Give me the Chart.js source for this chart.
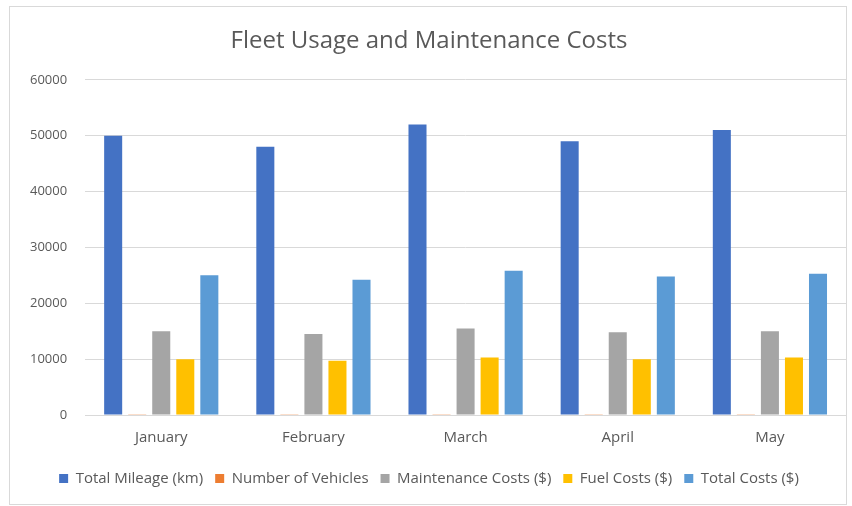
<!DOCTYPE html>
<html>
<head>
<meta charset="utf-8">
<script src="https://cdn.jsdelivr.net/npm/chart.js@4"></script>
<style>
  html, body { margin: 0; padding: 0; background: #fff; }
  #wrap {
    position: absolute; left: 9px; top: 6px;
    width: 836px; height: 497px;
    border: 1px solid #d9d9d9; background: #fff;
  }
</style>
</head>
<body>
<div id="wrap"><canvas id="myChart"></canvas></div>
<script>
const months = ['January', 'February', 'March', 'April', 'May'];
const totalMileage = [50000, 48000, 52000, 49000, 51000];
const numVehicles = [50, 48, 52, 49, 51];
const maintenanceCosts = [15000, 14500, 15500, 14800, 15000];
const fuelCosts = [10000, 9700, 10300, 10000, 10300];
const totalCosts = [25000, 24200, 25800, 24800, 25300];
const yTicks = [0, 10000, 20000, 30000, 40000, 50000, 60000];

const COLORS = {
    blue: '#4472c4',
    orange: '#ed7d31',
    gray: '#a5a5a5',
    gold: '#ffc000',
    lightBlue: '#5b9bd5',
    text: '#595959',
    grid: '#d9d9d9'
};

const FONT = "'Open Sans', sans-serif";

function series(label, data, color) {
    return {
        label: label,
        data: data,
        backgroundColor: color,
        borderWidth: 0,
        categoryPercentage: 0.79,
        barPercentage: 0.75
    };
}

const ctx = document.getElementById('myChart').getContext('2d');

new Chart(ctx, {
    type: 'bar',
    data: {
        labels: months,
        datasets: [
            series('Total Mileage (km)', totalMileage, COLORS.blue),
            series('Number of Vehicles', numVehicles, COLORS.orange),
            series('Maintenance Costs ($)', maintenanceCosts, COLORS.gray),
            series('Fuel Costs ($)', fuelCosts, COLORS.gold),
            series('Total Costs ($)', totalCosts, COLORS.lightBlue)
        ]
    },
    options: {
        responsive: true,
        maintainAspectRatio: false,
        animation: false,
        layout: {
            padding: { left: 2, right: 0, top: 20, bottom: 8 }
        },
        plugins: {
            title: {
                display: true,
                text: 'Fleet Usage and Maintenance Costs',
                font: { family: FONT, size: 24, weight: 'normal' },
                color: COLORS.text,
                padding: { top: 0, bottom: 24 }
            },
            legend: {
                position: 'bottom',
                labels: {
                    boxWidth: 9,
                    boxHeight: 9,
                    padding: 12,
                    font: { family: FONT, size: 15 },
                    color: COLORS.text
                }
            },
            tooltip: { enabled: false }
        },
        scales: {
            x: {
                grid: { display: false },
                border: { color: COLORS.grid, width: 1 },
                ticks: {
                    font: { family: FONT, size: 15 },
                    color: COLORS.text,
                    padding: 6
                },
                afterFit: axis => { axis.height += 6; }
            },
            y: {
                min: 0,
                max: 60000,
                afterBuildTicks: axis => {
                    axis.ticks = yTicks.map(v => ({ value: v }));
                },
                grid: { color: COLORS.grid, drawTicks: false },
                border: { display: false },
                ticks: {
                    font: { family: FONT, size: 13 },
                    color: COLORS.text,
                    padding: 18,
                    callback: v => String(v)
                }
            }
        }
    }
});
</script>
</body>
</html>
